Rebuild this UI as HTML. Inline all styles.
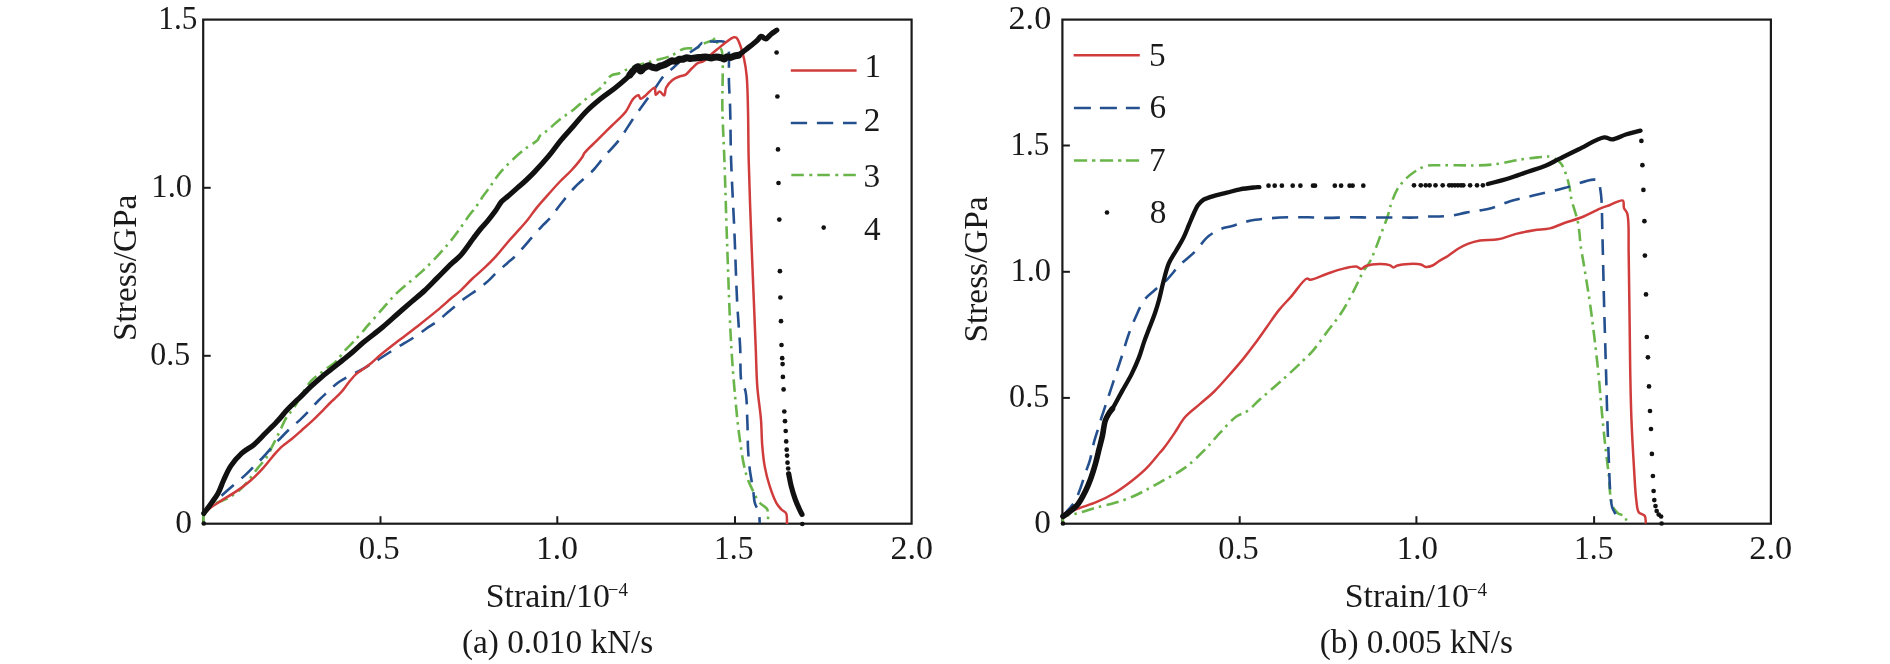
<!DOCTYPE html>
<html><head><meta charset="utf-8"><title>Stress-strain curves</title>
<style>
html,body{margin:0;padding:0;background:#fff;}
body{width:1890px;height:664px;overflow:hidden;}
svg{display:block;will-change:transform;}
text{font-family:"Liberation Serif",serif;font-size:33.3px;fill:#1a1a1a;}
</style></head>
<body>
<svg width="1890" height="664" viewBox="0 0 1890 664">
<rect width="1890" height="664" fill="#fff"/>
<rect x="203.2" y="19.6" width="708.4000000000001" height="504.1" fill="none" stroke="#1a1a1a" stroke-width="2.2"/><line x1="380.5" y1="523.7" x2="380.5" y2="516.2" stroke="#1a1a1a" stroke-width="2"/><line x1="557.3" y1="523.7" x2="557.3" y2="516.2" stroke="#1a1a1a" stroke-width="2"/><line x1="735" y1="523.7" x2="735" y2="516.2" stroke="#1a1a1a" stroke-width="2"/><line x1="203.2" y1="187.8" x2="210.7" y2="187.8" stroke="#1a1a1a" stroke-width="2"/><line x1="203.2" y1="355.8" x2="210.7" y2="355.8" stroke="#1a1a1a" stroke-width="2"/><rect x="1062.4" y="19.6" width="708.5" height="504.1" fill="none" stroke="#1a1a1a" stroke-width="2.2"/><line x1="1239.7" y1="523.7" x2="1239.7" y2="516.2" stroke="#1a1a1a" stroke-width="2"/><line x1="1416.4" y1="523.7" x2="1416.4" y2="516.2" stroke="#1a1a1a" stroke-width="2"/><line x1="1594.1" y1="523.7" x2="1594.1" y2="516.2" stroke="#1a1a1a" stroke-width="2"/><line x1="1062.4" y1="145.5" x2="1069.9" y2="145.5" stroke="#1a1a1a" stroke-width="2"/><line x1="1062.4" y1="271.8" x2="1069.9" y2="271.8" stroke="#1a1a1a" stroke-width="2"/><line x1="1062.4" y1="397.9" x2="1069.9" y2="397.9" stroke="#1a1a1a" stroke-width="2"/><path d="M203.80,523.00 C203.80,520.00 202.57,516.83 203.80,514.00 C205.37,510.39 210.54,506.58 214.50,504.00 C218.33,501.50 223.14,500.73 227.10,498.60 C230.96,496.52 234.67,494.13 238.00,491.40 C241.30,488.69 243.97,485.79 247.00,482.30 C250.60,478.15 254.40,472.33 257.90,467.90 C261.00,463.98 264.45,460.77 266.90,457.00 C269.17,453.52 270.36,450.06 272.30,446.20 C274.55,441.72 277.27,436.46 279.60,431.70 C281.83,427.13 283.56,422.21 286.00,418.20 C288.19,414.60 290.45,412.68 293.30,408.60 C297.94,401.95 305.36,387.53 310.50,381.60 C313.54,378.09 316.23,376.49 319.00,374.30 C321.48,372.34 323.72,370.94 326.30,369.00 C329.28,366.76 332.87,364.47 335.80,361.60 C338.90,358.56 341.31,354.44 344.30,351.10 C347.28,347.78 350.60,344.89 353.70,341.60 C356.90,338.20 360.80,333.77 363.20,331.00 C364.70,329.26 365.22,328.54 366.80,326.70 C369.73,323.28 374.99,317.29 379.50,312.20 C384.56,306.49 390.28,299.44 395.70,294.10 C400.52,289.35 405.52,285.54 410.20,281.50 C414.57,277.73 418.61,274.57 422.90,270.60 C427.63,266.22 432.73,261.09 437.30,256.20 C441.75,251.45 446.10,246.49 450.00,241.70 C453.62,237.26 456.71,233.01 460.00,228.50 C463.37,223.88 467.13,218.06 470.00,214.30 C471.99,211.70 473.69,210.07 475.30,207.90 C476.84,205.83 478.10,203.70 479.50,201.60 C480.90,199.50 482.12,197.53 483.70,195.30 C485.56,192.68 488.15,189.54 490.00,186.90 C491.58,184.65 492.61,182.75 494.20,180.50 C496.07,177.86 498.14,174.99 500.60,172.10 C503.48,168.72 506.87,165.18 510.60,161.60 C514.90,157.47 520.33,152.66 525.10,148.90 C529.39,145.52 535.59,142.48 537.80,139.90 C538.92,138.59 538.60,137.51 539.60,136.30 C541.10,134.49 544.04,133.04 546.80,130.80 C550.74,127.60 556.16,122.34 560.80,118.70 C565.06,115.37 569.34,112.95 573.50,109.70 C577.81,106.33 581.77,102.35 586.20,98.80 C590.79,95.11 596.33,92.00 600.60,88.00 C604.72,84.14 607.88,77.53 611.50,75.30 C613.91,73.81 616.11,74.45 618.70,73.50 C622.02,72.28 625.92,69.62 629.60,68.10 C633.16,66.63 636.89,65.58 640.40,64.50 C643.68,63.49 647.20,62.58 650.00,61.80 C652.17,61.19 653.41,60.88 655.80,60.20 C659.71,59.09 666.40,57.68 671.20,55.70 C675.77,53.81 679.59,49.96 684.00,48.70 C688.14,47.52 693.41,49.12 696.80,48.00 C699.38,47.15 701.01,44.94 703.00,43.90 C704.66,43.04 706.24,42.53 707.80,42.00 C709.23,41.51 710.64,41.44 712.00,40.80 C713.49,40.09 715.44,37.45 716.30,37.80 C717.12,38.13 716.68,40.99 717.20,42.50 C717.73,44.06 718.71,45.61 719.50,47.00 C720.21,48.26 721.11,48.49 721.70,50.50 C723.95,58.14 721.91,91.03 722.40,110.00 C722.85,127.39 723.71,141.09 724.40,160.00 C725.30,184.78 726.09,215.89 727.20,245.90 C728.42,278.94 729.54,318.75 731.50,350.00 C733.11,375.66 735.70,403.78 737.40,420.00 C738.31,428.67 738.96,433.14 739.90,439.90 C740.88,446.93 741.86,454.74 743.20,461.40 C744.38,467.29 745.56,472.76 747.30,477.90 C748.91,482.64 750.98,486.97 753.10,491.20 C755.13,495.26 757.13,499.64 759.70,502.80 C761.92,505.53 765.75,506.42 767.20,509.40 C768.90,512.88 767.73,518.47 768.00,523.00" fill="none" stroke="#69b54a" stroke-width="2.6" stroke-dasharray="12.5 5 2.5 5.5" stroke-linejoin="round"/><path d="M203.80,514.00 C205.87,511.00 207.57,507.59 210.00,505.00 C212.36,502.48 215.05,501.14 218.10,498.60 C222.25,495.15 227.84,490.04 232.50,486.00 C236.86,482.22 241.39,478.63 245.20,475.10 C248.52,472.02 251.19,469.11 254.20,466.10 C257.22,463.08 260.08,460.45 263.30,457.00 C267.25,452.78 272.90,445.73 276.00,442.50 C277.66,440.77 278.39,440.27 280.00,438.70 C282.53,436.23 286.24,432.17 289.60,429.00 C293.06,425.73 297.15,422.55 300.50,419.40 C303.53,416.56 306.00,414.02 308.90,411.00 C312.15,407.61 315.72,403.29 319.00,400.00 C321.87,397.11 324.43,394.92 327.40,392.20 C330.70,389.18 334.25,385.39 337.90,382.70 C341.30,380.19 344.78,378.45 348.50,376.40 C352.48,374.21 357.12,372.19 361.10,370.00 C364.82,367.95 368.39,365.72 371.70,363.70 C374.65,361.90 376.74,360.56 380.00,358.50 C384.71,355.52 391.49,351.04 397.20,347.50 C402.76,344.05 408.69,340.84 413.80,337.50 C418.38,334.51 422.42,331.31 426.50,328.50 C430.23,325.94 433.64,324.07 437.30,321.30 C441.46,318.15 445.58,314.10 450.00,310.40 C454.72,306.44 460.05,301.88 464.80,298.30 C468.97,295.15 473.02,292.77 476.90,289.90 C480.65,287.13 484.40,284.33 487.70,281.40 C490.76,278.68 493.07,275.84 496.10,273.00 C499.45,269.85 503.60,266.38 507.00,263.40 C509.98,260.80 512.59,258.87 515.40,256.10 C518.61,252.94 522.13,248.69 525.10,245.30 C527.70,242.34 529.84,239.69 532.30,236.90 C534.80,234.06 537.99,230.61 540.00,228.40 C541.30,226.98 541.90,226.26 543.20,224.90 C545.10,222.91 547.93,220.54 550.40,217.70 C553.49,214.15 556.38,209.56 560.00,205.00 C564.39,199.47 569.54,192.74 575.00,187.00 C580.64,181.06 588.24,175.50 593.40,170.00 C597.67,165.45 600.28,161.31 604.20,156.70 C608.62,151.49 614.06,146.40 618.70,140.40 C623.77,133.84 628.90,124.93 633.20,118.70 C636.51,113.90 639.31,110.15 642.20,106.10 C644.89,102.33 647.46,98.76 650.00,95.20 C652.43,91.80 654.79,88.45 657.10,85.20 C659.29,82.12 660.92,79.06 663.50,76.20 C666.38,73.02 670.05,70.55 673.80,67.20 C678.42,63.07 684.58,56.82 689.10,53.20 C692.37,50.58 695.61,48.97 698.00,47.00 C699.80,45.51 701.16,42.68 702.40,42.70 C703.33,42.71 703.96,45.20 704.80,45.20 C705.75,45.19 706.43,42.64 707.80,42.00 C709.52,41.20 712.30,41.70 714.70,41.60 C717.31,41.49 720.77,40.90 722.90,41.40 C724.40,41.75 725.60,42.38 726.50,43.30 C727.40,44.22 727.90,45.50 728.30,46.90 C728.79,48.61 728.76,50.18 728.90,52.90 C729.19,58.68 728.70,70.99 728.90,80.00 C729.10,88.99 729.77,96.42 730.10,106.90 C730.57,121.64 730.48,141.06 731.10,160.10 C731.82,182.18 733.38,207.76 734.40,231.60 C735.42,255.43 736.09,282.30 737.20,303.10 C738.06,319.22 739.34,332.21 740.10,346.00 C740.81,358.81 739.78,375.76 741.70,383.10 C742.58,386.45 744.31,386.77 745.20,390.00 C746.96,396.37 746.82,410.01 747.30,420.00 C747.78,429.94 747.60,440.87 748.10,449.80 C748.51,457.11 748.97,463.09 749.80,469.70 C750.63,476.33 752.22,483.55 753.10,489.50 C753.82,494.37 753.73,498.76 754.80,502.80 C755.76,506.41 758.09,509.30 758.90,512.70 C759.70,516.04 759.43,519.57 759.70,523.00" fill="none" stroke="#24508f" stroke-width="2.6" stroke-dasharray="16 10" stroke-linejoin="round"/><path d="M203.80,514.00 C206.13,511.87 208.12,509.69 210.80,507.60 C213.95,505.14 217.79,502.90 221.70,500.40 C226.17,497.54 231.45,494.66 236.20,491.40 C241.09,488.04 246.07,484.43 250.60,480.50 C255.10,476.59 259.52,472.04 263.30,467.90 C266.66,464.22 269.39,460.41 272.30,457.00 C274.94,453.91 277.01,451.15 280.00,448.30 C283.44,445.03 288.25,441.84 292.00,438.70 C295.44,435.82 298.39,433.13 301.70,430.20 C305.21,427.10 308.94,423.94 312.50,420.60 C316.17,417.15 320.15,413.06 323.40,409.80 C326.06,407.14 328.69,404.39 330.60,402.50 C331.84,401.27 332.42,400.76 333.70,399.50 C335.82,397.41 339.58,393.99 342.10,391.10 C344.48,388.38 346.25,385.46 348.50,382.70 C350.81,379.86 353.21,376.66 355.80,374.30 C358.14,372.17 360.66,370.85 363.20,369.00 C365.94,367.00 368.93,364.95 371.70,362.70 C374.54,360.39 376.60,358.15 380.00,355.30 C385.06,351.05 392.88,345.06 399.40,340.00 C405.95,334.92 412.78,329.92 419.20,324.90 C425.40,320.05 431.64,315.12 437.30,310.40 C442.45,306.11 447.63,301.32 451.80,297.80 C454.90,295.19 457.08,293.75 460.00,291.10 C463.70,287.74 467.93,282.86 472.00,279.00 C475.97,275.23 480.13,271.97 484.10,268.20 C488.17,264.34 492.18,260.39 496.10,256.10 C500.22,251.59 504.13,246.37 508.20,241.70 C512.17,237.14 516.71,232.34 520.20,228.40 C522.95,225.29 525.03,223.06 527.50,220.00 C530.29,216.54 532.81,212.57 536.00,208.60 C539.71,203.99 544.48,198.74 548.60,194.10 C552.47,189.73 556.11,185.55 560.00,181.50 C563.82,177.52 567.99,174.08 571.70,170.00 C575.49,165.83 580.45,159.81 582.50,156.70 C583.50,155.19 583.32,154.56 584.40,153.10 C586.66,150.03 592.64,144.76 597.00,140.40 C601.66,135.74 606.68,130.82 611.50,126.00 C616.32,121.18 622.14,116.42 625.90,111.50 C629.08,107.33 630.60,101.57 633.20,98.80 C634.93,96.95 637.38,94.88 638.60,95.20 C639.56,95.45 639.45,98.54 640.40,98.80 C641.59,99.12 643.68,96.84 645.60,95.40 C648.25,93.41 653.00,87.12 654.60,87.70 C655.85,88.15 654.77,94.42 655.80,94.80 C656.66,95.12 658.36,91.59 659.70,91.60 C661.15,91.61 663.14,95.74 664.20,95.40 C665.43,95.00 664.87,90.13 666.10,87.70 C667.48,84.97 670.04,81.94 672.50,80.00 C674.78,78.20 677.86,77.07 680.20,76.20 C682.04,75.52 683.63,75.85 685.30,74.90 C687.49,73.65 689.54,70.54 691.70,68.50 C693.81,66.51 695.95,63.94 698.10,62.80 C699.79,61.90 701.52,62.40 703.20,61.50 C705.36,60.34 707.35,57.66 709.60,55.70 C712.03,53.59 714.73,51.43 717.30,49.30 C719.87,47.17 722.28,44.89 725.00,42.90 C727.80,40.85 731.76,37.57 733.90,37.20 C734.98,37.01 735.69,37.16 736.50,37.80 C737.95,38.95 739.15,42.48 740.30,45.50 C741.80,49.44 743.15,54.68 744.20,59.60 C745.32,64.88 746.08,69.67 746.70,76.20 C747.57,85.46 747.68,97.63 748.00,110.00 C748.39,125.04 748.25,141.09 748.70,160.00 C749.29,184.79 750.66,220.56 751.60,245.90 C752.35,266.01 753.09,282.32 753.80,300.00 C754.49,316.99 755.18,334.63 755.80,350.00 C756.33,363.15 756.40,374.69 757.30,386.60 C758.16,398.00 760.18,409.68 761.00,420.00 C761.71,428.87 761.55,436.83 762.20,444.80 C762.81,452.26 763.42,459.40 764.70,466.40 C765.94,473.19 767.68,479.95 769.70,486.20 C771.59,492.04 773.95,498.64 776.30,502.80 C777.90,505.63 779.53,507.54 781.30,509.40 C782.85,511.03 785.19,511.54 786.20,513.50 C787.50,516.02 786.73,520.50 787.00,524.00" fill="none" stroke="#d03c3c" stroke-width="2.5" stroke-linejoin="round"/><path d="M203.80,513.40 C206.13,510.27 208.48,507.27 210.80,504.00 C213.25,500.55 216.00,497.05 218.10,493.20 C220.26,489.24 221.50,484.83 223.50,480.50 C225.66,475.82 227.72,470.58 230.70,466.10 C233.73,461.53 237.59,457.07 241.60,453.40 C245.45,449.87 250.28,447.72 254.20,444.40 C258.11,441.09 261.48,437.12 265.10,433.50 C268.71,429.89 273.18,425.55 275.90,422.70 C277.62,420.90 278.46,419.95 280.00,418.20 C282.08,415.85 284.64,412.56 287.20,409.80 C289.86,406.92 293.32,403.57 295.70,401.30 C297.35,399.73 298.28,399.04 300.00,397.40 C302.76,394.77 306.94,390.27 310.50,386.90 C313.98,383.60 317.53,380.42 321.10,377.40 C324.57,374.46 328.10,371.80 331.60,369.00 C335.10,366.20 338.59,363.41 342.10,360.60 C345.63,357.78 349.22,355.07 352.70,352.10 C356.25,349.07 359.64,345.61 363.20,342.60 C366.68,339.65 370.39,336.93 373.80,334.20 C377.01,331.64 379.70,329.57 383.10,326.70 C387.41,323.06 392.68,318.22 397.50,314.00 C402.32,309.78 407.32,305.44 412.00,301.40 C416.37,297.63 420.55,294.35 424.70,290.50 C428.99,286.53 432.95,282.25 437.30,277.90 C441.96,273.24 447.60,267.36 451.80,263.40 C454.87,260.50 457.11,259.24 460.00,256.10 C464.09,251.65 469.43,243.46 473.20,238.50 C475.98,234.84 478.01,232.03 480.50,229.00 C482.91,226.07 485.48,223.52 487.90,220.60 C490.41,217.57 492.99,214.31 495.30,211.10 C497.55,207.98 499.30,204.18 501.60,201.60 C503.56,199.41 505.60,198.29 507.90,196.30 C510.76,193.84 514.33,190.61 517.40,187.90 C520.28,185.35 523.03,183.09 525.80,180.50 C528.66,177.83 531.15,175.40 534.30,172.10 C538.51,167.69 544.12,161.58 548.60,156.20 C552.93,151.01 556.61,145.48 560.80,140.40 C564.91,135.42 569.27,130.81 573.50,126.00 C577.74,121.18 581.68,116.04 586.20,111.50 C590.71,106.97 595.71,102.77 600.60,98.80 C605.35,94.95 610.67,91.51 615.10,88.00 C619.02,84.90 623.19,81.38 625.90,78.90 C627.63,77.31 628.63,76.17 630.00,74.80" fill="none" stroke="#111111" stroke-width="5.2" stroke-linejoin="round" stroke-linecap="round"/><path d="M788.70,473.80 C789.53,477.93 790.14,482.02 791.20,486.20 C792.31,490.58 793.81,495.43 795.30,499.50 C796.61,503.08 798.24,506.67 799.50,509.40 C800.41,511.37 801.17,512.73 802.00,514.40" fill="none" stroke="#111111" stroke-width="5.2" stroke-linejoin="round" stroke-linecap="round"/><path d="M738.50,55.30 C739.90,54.23 741.22,53.25 742.70,52.10 C744.37,50.80 746.23,49.30 748.00,47.90 C749.77,46.50 751.64,45.05 753.30,43.70 C754.79,42.49 756.21,41.45 757.50,40.20 C758.77,38.98 759.63,36.54 761.00,36.30 C762.39,36.06 764.23,39.09 765.80,38.90 C767.58,38.69 769.17,35.65 771.00,34.20 C772.84,32.75 774.87,31.53 776.80,30.20" fill="none" stroke="#111111" stroke-width="5.2" stroke-linejoin="round" stroke-linecap="round"/><circle cx="776.6" cy="52.5" r="2.35" fill="#111111"/><circle cx="777.4" cy="96.5" r="2.35" fill="#111111"/><circle cx="778" cy="149.4" r="2.35" fill="#111111"/><circle cx="778.5" cy="183" r="2.35" fill="#111111"/><circle cx="779.3" cy="219.6" r="2.35" fill="#111111"/><circle cx="779.9" cy="271.2" r="2.35" fill="#111111"/><circle cx="780.4" cy="297.5" r="2.35" fill="#111111"/><circle cx="781" cy="321.2" r="2.35" fill="#111111"/><circle cx="781.5" cy="345" r="2.35" fill="#111111"/><circle cx="782.2" cy="358.2" r="2.35" fill="#111111"/><circle cx="782.6" cy="364.1" r="2.35" fill="#111111"/><circle cx="782.9" cy="376.9" r="2.35" fill="#111111"/><circle cx="783.6" cy="389.4" r="2.35" fill="#111111"/><circle cx="784.3" cy="411.5" r="2.35" fill="#111111"/><circle cx="785" cy="421.2" r="2.35" fill="#111111"/><circle cx="785.7" cy="431" r="2.35" fill="#111111"/><circle cx="786.2" cy="441.4" r="2.35" fill="#111111"/><circle cx="786.7" cy="449.7" r="2.35" fill="#111111"/><circle cx="787.1" cy="455.6" r="2.35" fill="#111111"/><circle cx="787.5" cy="462.7" r="2.35" fill="#111111"/><circle cx="788.2" cy="468.5" r="2.35" fill="#111111"/><circle cx="788.7" cy="473.8" r="2.35" fill="#111111"/><circle cx="802.3" cy="524" r="2.35" fill="#111111"/><circle cx="203.8" cy="523.5" r="2.35" fill="#111111"/><path d="M630.00,74.80 C631.07,73.47 631.96,72.08 633.20,70.80 C634.56,69.40 636.65,66.60 637.90,66.80 C639.02,66.98 639.49,70.85 640.50,71.00 C641.44,71.14 642.46,69.03 643.70,68.20 C645.09,67.27 647.00,65.89 648.50,65.80 C649.77,65.73 650.83,66.74 652.10,67.10 C653.46,67.48 655.06,68.19 656.40,68.00 C657.69,67.82 658.77,66.60 660.00,66.10 C661.20,65.61 662.44,65.49 663.70,65.00 C665.10,64.45 666.58,63.60 668.00,62.90 C669.41,62.20 670.88,61.00 672.20,60.80 C673.28,60.63 674.21,61.46 675.30,61.30 C676.65,61.10 678.25,59.51 679.60,59.20 C680.69,58.95 681.61,59.39 682.70,59.20 C684.01,58.97 685.53,57.79 686.90,57.70 C688.16,57.62 689.29,58.44 690.60,58.50 C692.07,58.56 693.69,58.08 695.30,57.90 C696.99,57.71 698.76,57.57 700.50,57.40 C702.26,57.23 704.04,56.82 705.80,56.90 C707.57,56.98 709.33,57.90 711.10,57.90 C712.87,57.90 714.64,56.90 716.40,56.90 C718.14,56.90 720.17,57.47 721.60,57.90 C722.66,58.22 723.44,59.13 724.30,59.00 C725.22,58.86 725.86,57.20 726.90,56.90 C728.07,56.56 729.77,57.59 731.10,57.40 C732.40,57.21 733.54,56.15 734.80,55.80 C736.01,55.46 737.27,55.47 738.50,55.30" fill="none" stroke="#111111" stroke-width="7" stroke-linejoin="round" stroke-linecap="round"/><path d="M1063.00,523.00 C1063.00,521.23 1062.71,518.75 1063.00,517.70 C1063.14,517.21 1063.15,517.03 1063.60,516.70 C1065.22,515.51 1073.02,514.50 1078.10,513.10 C1083.82,511.52 1090.15,509.27 1096.20,507.60 C1102.19,505.94 1108.23,504.88 1114.20,503.10 C1120.27,501.29 1126.67,499.17 1132.30,496.80 C1137.47,494.63 1142.11,492.06 1146.80,489.60 C1151.33,487.22 1154.94,485.18 1160.00,482.30 C1166.97,478.34 1177.11,473.44 1184.70,467.90 C1192.16,462.45 1199.11,455.54 1205.20,449.40 C1210.62,443.94 1214.64,438.46 1219.70,433.10 C1224.90,427.59 1230.83,420.52 1236.00,416.80 C1239.74,414.10 1243.21,413.87 1246.80,411.40 C1251.14,408.41 1254.77,403.98 1259.80,399.50 C1266.57,393.47 1276.37,385.39 1283.90,378.60 C1290.75,372.42 1297.92,365.64 1303.20,360.50 C1306.99,356.81 1309.41,354.71 1312.80,350.80 C1317.30,345.60 1322.48,338.02 1327.30,331.60 C1332.12,325.18 1337.31,319.07 1341.70,312.30 C1346.16,305.42 1350.08,297.66 1353.80,290.60 C1357.27,284.02 1360.33,276.57 1363.40,271.30 C1365.67,267.40 1368.01,265.14 1370.00,261.50 C1372.23,257.41 1374.00,252.54 1375.90,247.80 C1377.91,242.79 1379.75,237.41 1381.70,232.20 C1383.65,226.97 1385.92,221.59 1387.60,216.50 C1389.15,211.81 1389.89,207.32 1391.50,202.80 C1393.14,198.18 1394.97,193.13 1397.40,189.10 C1399.62,185.42 1402.28,182.33 1405.20,179.40 C1408.14,176.46 1411.45,173.77 1415.00,171.50 C1418.63,169.18 1422.76,166.71 1426.80,165.70 C1430.61,164.75 1434.10,165.38 1438.50,165.30 C1444.19,165.20 1451.47,165.28 1458.10,165.30 C1464.93,165.32 1472.08,165.66 1478.90,165.40 C1485.54,165.15 1491.99,164.71 1498.50,163.80 C1505.06,162.88 1511.55,160.97 1518.10,159.90 C1524.61,158.84 1532.00,157.96 1537.70,157.40 C1542.09,156.97 1546.21,156.11 1549.40,156.60 C1551.75,156.96 1553.43,157.82 1555.30,158.90 C1557.31,160.07 1559.39,161.46 1561.00,163.50 C1562.92,165.94 1564.19,169.55 1565.50,173.00 C1566.97,176.87 1568.20,181.30 1569.20,185.70 C1570.25,190.32 1570.55,195.54 1571.60,200.10 C1572.58,204.34 1574.13,208.53 1575.20,212.20 C1576.09,215.25 1576.93,217.52 1577.60,220.60 C1578.39,224.24 1578.90,228.62 1579.40,232.70 C1579.91,236.85 1579.99,240.64 1580.60,245.30 C1581.37,251.15 1582.63,257.15 1583.90,265.00 C1585.79,276.66 1588.49,292.44 1590.70,308.50 C1593.42,328.30 1596.75,356.98 1598.60,375.00 C1599.86,387.30 1600.30,395.34 1601.30,406.10 C1602.38,417.71 1603.64,430.68 1604.90,442.30 C1606.08,453.12 1607.38,463.17 1608.60,473.60 C1609.82,484.03 1609.55,497.96 1612.20,504.90 C1613.72,508.89 1615.90,511.58 1618.20,513.40 C1620.01,514.83 1622.79,514.50 1624.20,515.80 C1625.49,516.98 1625.80,519.00 1626.60,520.60" fill="none" stroke="#69b54a" stroke-width="2.6" stroke-dasharray="12.5 5 2.5 5.5" stroke-linejoin="round"/><path d="M1063.00,516.00 C1064.70,513.97 1066.31,512.05 1068.10,509.90 C1070.11,507.48 1072.64,505.24 1074.50,502.20 C1076.68,498.65 1078.19,494.11 1079.90,489.60 C1081.81,484.55 1083.56,478.39 1085.30,473.30 C1086.84,468.79 1088.41,465.35 1089.80,460.60 C1091.51,454.75 1092.75,446.77 1094.40,440.70 C1095.82,435.48 1097.70,430.30 1098.90,426.30 C1099.75,423.46 1100.25,421.42 1101.00,419.00 C1101.75,416.58 1102.47,414.60 1103.40,411.80 C1104.71,407.86 1106.37,402.83 1108.10,397.60 C1110.24,391.13 1112.90,383.13 1115.30,375.90 C1117.70,368.67 1120.30,361.11 1122.50,354.20 C1124.50,347.93 1125.91,342.17 1128.00,336.20 C1130.13,330.13 1132.53,324.08 1135.20,318.10 C1137.92,312.01 1140.60,304.85 1144.20,300.00 C1147.21,295.94 1150.85,293.58 1154.50,290.30 C1158.45,286.75 1163.03,283.53 1167.10,279.50 C1171.49,275.16 1175.28,269.54 1179.80,265.00 C1184.31,260.47 1189.52,256.94 1194.20,252.30 C1199.17,247.36 1203.69,240.16 1208.70,236.10 C1212.81,232.77 1217.22,230.48 1221.40,228.80 C1225.04,227.33 1228.74,227.13 1232.20,226.10 C1235.49,225.12 1238.21,223.78 1241.70,222.80 C1245.82,221.64 1250.81,220.55 1255.40,219.80 C1259.95,219.06 1264.12,218.70 1269.10,218.30 C1275.04,217.82 1282.16,217.47 1288.70,217.30 C1295.23,217.13 1301.77,217.20 1308.30,217.30 C1314.83,217.40 1321.38,217.90 1327.90,217.90 C1334.41,217.90 1340.46,217.38 1347.40,217.30 C1355.33,217.21 1364.32,217.47 1372.90,217.50 C1381.65,217.53 1391.73,217.50 1399.40,217.50 C1405.28,217.50 1410.17,217.70 1415.00,217.50 C1419.21,217.32 1422.87,216.67 1426.80,216.50 C1430.70,216.33 1434.45,216.63 1438.50,216.50 C1442.89,216.36 1447.66,216.24 1452.20,215.60 C1456.79,214.95 1461.29,213.46 1465.90,212.60 C1470.55,211.73 1475.50,211.20 1480.00,210.40 C1484.17,209.66 1487.64,209.23 1492.00,208.00 C1497.47,206.45 1503.58,203.31 1510.10,201.30 C1517.50,199.02 1525.72,197.37 1534.20,195.30 C1543.67,192.99 1554.39,190.74 1564.30,188.10 C1574.09,185.50 1587.54,179.66 1593.30,179.60 C1595.73,179.57 1597.32,179.76 1598.50,181.00 C1599.98,182.55 1599.82,186.34 1600.30,189.30 C1600.85,192.63 1601.19,195.54 1601.50,200.00 C1602.01,207.37 1602.06,220.02 1602.30,229.40 C1602.52,238.02 1602.66,244.33 1602.90,254.20 C1603.25,268.80 1603.70,289.58 1604.20,308.50 C1604.75,329.22 1605.55,353.95 1606.10,373.60 C1606.56,389.87 1606.86,404.12 1607.30,418.20 C1607.70,430.87 1608.09,441.89 1608.60,454.30 C1609.14,467.53 1609.60,485.72 1610.50,495.30 C1610.99,500.51 1611.14,503.87 1612.20,507.30 C1613.07,510.11 1614.92,512.83 1615.80,514.60 C1616.31,515.62 1616.60,516.20 1617.00,517.00" fill="none" stroke="#24508f" stroke-width="2.6" stroke-dasharray="16 10" stroke-linejoin="round"/><path d="M1063.00,516.10 C1063.20,515.70 1063.13,515.35 1063.60,514.90 C1065.22,513.36 1072.96,510.62 1078.10,508.60 C1083.76,506.37 1090.25,504.73 1096.20,502.20 C1102.29,499.61 1108.32,496.71 1114.20,493.20 C1120.36,489.52 1126.71,484.87 1132.30,480.50 C1137.51,476.42 1142.24,472.49 1146.80,467.90 C1151.49,463.18 1156.97,455.99 1160.00,452.50 C1161.57,450.69 1162.13,450.25 1163.60,448.40 C1166.32,444.97 1170.92,438.31 1174.50,433.10 C1178.15,427.78 1181.06,421.65 1185.30,416.80 C1189.51,411.99 1194.97,408.32 1199.80,404.10 C1204.61,399.89 1209.27,396.34 1214.20,391.50 C1220.05,385.76 1227.06,377.53 1232.30,371.60 C1236.43,366.93 1239.55,363.38 1243.20,358.90 C1247.12,354.09 1251.10,348.87 1255.00,343.60 C1259.04,338.15 1262.98,332.32 1267.00,326.70 C1271.02,321.08 1274.93,315.07 1279.10,309.90 C1282.98,305.09 1286.85,301.39 1291.10,296.60 C1296.00,291.07 1303.16,279.59 1306.80,278.60 C1308.25,278.20 1308.76,279.82 1310.40,279.80 C1313.96,279.76 1321.65,275.61 1327.30,273.70 C1332.91,271.81 1339.01,269.62 1344.20,268.40 C1348.50,267.39 1353.16,266.03 1356.20,266.50 C1358.22,266.81 1359.42,268.96 1361.00,268.90 C1362.62,268.84 1363.68,266.76 1365.80,266.00 C1369.16,264.79 1375.54,263.96 1379.80,263.90 C1383.35,263.85 1387.14,264.26 1389.60,265.10 C1391.27,265.67 1392.19,267.35 1393.50,267.40 C1394.79,267.45 1395.70,266.02 1397.40,265.50 C1400.21,264.65 1405.18,264.07 1409.10,263.90 C1413.02,263.73 1417.88,263.69 1420.90,264.50 C1422.96,265.05 1423.99,266.77 1425.80,267.00 C1427.84,267.26 1430.49,266.41 1432.60,265.50 C1434.73,264.58 1436.26,262.92 1438.50,261.50 C1441.33,259.71 1445.07,257.79 1448.30,255.70 C1451.61,253.56 1454.77,250.80 1458.10,248.80 C1461.27,246.90 1464.31,245.25 1467.80,243.90 C1471.57,242.44 1475.49,241.27 1480.00,240.50 C1485.40,239.58 1492.14,240.38 1498.10,239.30 C1504.17,238.20 1510.06,235.42 1516.10,233.90 C1522.09,232.39 1528.36,231.13 1534.20,230.20 C1539.60,229.34 1544.85,229.62 1549.90,228.40 C1554.88,227.20 1559.21,224.80 1564.30,223.00 C1569.97,221.00 1576.48,219.38 1582.40,217.00 C1588.38,214.59 1594.91,210.72 1600.00,208.60 C1603.76,207.03 1606.46,206.26 1610.00,205.00 C1614.00,203.58 1620.66,199.23 1622.80,200.50 C1624.41,201.46 1623.18,205.84 1624.00,208.10 C1624.75,210.16 1626.46,210.76 1627.30,213.60 C1629.41,220.75 1628.30,237.20 1628.70,254.20 C1629.38,282.91 1629.63,339.73 1630.20,370.00 C1630.57,389.53 1630.78,402.14 1631.40,418.20 C1632.02,434.27 1633.00,451.77 1633.90,466.40 C1634.65,478.64 1635.17,491.71 1636.30,500.10 C1636.98,505.17 1636.84,509.56 1638.70,512.20 C1640.10,514.19 1643.49,514.00 1644.70,515.80 C1645.98,517.70 1645.50,520.93 1645.90,523.50" fill="none" stroke="#d03c3c" stroke-width="2.5" stroke-linejoin="round"/><path d="M1063.00,516.40 C1065.00,515.00 1066.85,513.91 1069.00,512.20 C1071.78,509.99 1075.46,507.27 1078.10,504.00 C1080.97,500.44 1083.18,495.67 1085.30,491.40 C1087.37,487.23 1089.07,483.11 1090.70,478.70 C1092.42,474.07 1093.93,469.05 1095.30,464.20 C1096.66,459.41 1097.70,454.61 1098.90,449.80 C1100.10,444.98 1101.45,440.15 1102.50,435.30 C1103.55,430.48 1103.88,424.72 1105.20,420.80 C1106.17,417.90 1107.50,415.71 1108.80,413.60 C1109.92,411.78 1110.99,410.99 1112.40,408.80 C1115.04,404.71 1119.21,396.34 1122.50,390.40 C1125.60,384.80 1128.86,379.59 1131.60,374.10 C1134.27,368.75 1136.69,363.36 1138.80,357.90 C1140.88,352.53 1142.33,346.86 1144.20,341.60 C1145.97,336.61 1147.88,331.93 1149.70,327.10 C1151.51,322.29 1153.51,317.37 1155.10,312.70 C1156.58,308.36 1157.72,304.66 1159.00,300.00 C1160.54,294.39 1161.84,287.46 1163.50,281.30 C1165.14,275.20 1166.59,268.58 1168.90,263.20 C1170.94,258.46 1173.78,254.73 1176.20,250.50 C1178.61,246.29 1181.28,242.17 1183.40,237.90 C1185.47,233.73 1187.00,229.43 1188.80,225.20 C1190.60,220.97 1192.51,216.11 1194.20,212.50 C1195.50,209.73 1196.35,207.42 1197.90,205.30 C1199.40,203.24 1200.91,201.41 1203.30,199.90 C1206.46,197.90 1211.82,196.63 1215.90,195.40 C1219.64,194.27 1223.00,193.66 1226.80,192.70 C1230.99,191.64 1235.55,190.17 1240.00,189.30 C1244.45,188.43 1249.91,187.86 1253.50,187.50 C1255.86,187.26 1257.43,187.23 1259.40,187.10" fill="none" stroke="#111111" stroke-width="4.3" stroke-linejoin="round" stroke-linecap="round"/><path d="M1487.80,184.00 C1494.63,182.17 1501.58,180.56 1508.30,178.50 C1514.94,176.46 1521.54,173.87 1527.90,171.70 C1533.92,169.65 1540.07,168.06 1545.50,165.80 C1550.43,163.74 1554.22,161.39 1559.20,158.90 C1565.15,155.93 1571.82,152.55 1578.80,149.20 C1586.70,145.41 1598.06,137.98 1604.20,137.40 C1607.51,137.09 1609.13,139.54 1612.10,139.40 C1616.07,139.21 1621.12,135.95 1625.80,134.50 C1630.58,133.01 1635.60,131.90 1640.50,130.60" fill="none" stroke="#111111" stroke-width="4.3" stroke-linejoin="round" stroke-linecap="round"/><circle cx="1268.5" cy="185.7" r="2.35" fill="#111111"/><circle cx="1274.7" cy="185.7" r="2.35" fill="#111111"/><circle cx="1281.9" cy="185.7" r="2.35" fill="#111111"/><circle cx="1292.7" cy="185.7" r="2.35" fill="#111111"/><circle cx="1300.4" cy="185.7" r="2.35" fill="#111111"/><circle cx="1313" cy="185.7" r="2.35" fill="#111111"/><circle cx="1315" cy="185.7" r="2.35" fill="#111111"/><circle cx="1334.8" cy="185.7" r="2.35" fill="#111111"/><circle cx="1341.1" cy="185.7" r="2.35" fill="#111111"/><circle cx="1349.6" cy="185.7" r="2.35" fill="#111111"/><circle cx="1352.6" cy="185.7" r="2.35" fill="#111111"/><circle cx="1363.3" cy="185.7" r="2.35" fill="#111111"/><circle cx="1414" cy="185.3" r="2.35" fill="#111111"/><circle cx="1420.8" cy="185.3" r="2.35" fill="#111111"/><circle cx="1425.7" cy="185.3" r="2.35" fill="#111111"/><circle cx="1429.6" cy="185.3" r="2.35" fill="#111111"/><circle cx="1435.5" cy="185.3" r="2.35" fill="#111111"/><circle cx="1442.7" cy="185.3" r="2.35" fill="#111111"/><circle cx="1449.2" cy="185.3" r="2.35" fill="#111111"/><circle cx="1452" cy="185.3" r="2.35" fill="#111111"/><circle cx="1455" cy="185.3" r="2.35" fill="#111111"/><circle cx="1458" cy="185.3" r="2.35" fill="#111111"/><circle cx="1461" cy="185.3" r="2.35" fill="#111111"/><circle cx="1463.3" cy="185.3" r="2.35" fill="#111111"/><circle cx="1470.1" cy="185.3" r="2.35" fill="#111111"/><circle cx="1477" cy="185.3" r="2.35" fill="#111111"/><circle cx="1482.9" cy="185.3" r="2.35" fill="#111111"/><circle cx="1641.4" cy="140.9" r="2.35" fill="#111111"/><circle cx="1642.4" cy="165.2" r="2.35" fill="#111111"/><circle cx="1643.4" cy="189.9" r="2.35" fill="#111111"/><circle cx="1644.4" cy="221.2" r="2.35" fill="#111111"/><circle cx="1644.9" cy="255.6" r="2.35" fill="#111111"/><circle cx="1646" cy="294.4" r="2.35" fill="#111111"/><circle cx="1646.8" cy="337" r="2.35" fill="#111111"/><circle cx="1647.9" cy="357.3" r="2.35" fill="#111111"/><circle cx="1649" cy="386.4" r="2.35" fill="#111111"/><circle cx="1650" cy="411" r="2.35" fill="#111111"/><circle cx="1651" cy="429" r="2.35" fill="#111111"/><circle cx="1651.9" cy="453.9" r="2.35" fill="#111111"/><circle cx="1652.9" cy="476" r="2.35" fill="#111111"/><circle cx="1653.6" cy="491" r="2.35" fill="#111111"/><circle cx="1654.3" cy="500.1" r="2.35" fill="#111111"/><circle cx="1655.5" cy="506.1" r="2.35" fill="#111111"/><circle cx="1656.7" cy="511" r="2.35" fill="#111111"/><circle cx="1658.7" cy="514.6" r="2.35" fill="#111111"/><circle cx="1661.1" cy="516.5" r="2.35" fill="#111111"/><circle cx="1661.6" cy="523.5" r="2.35" fill="#111111"/><circle cx="1063" cy="523.5" r="2.35" fill="#111111"/><path d="M1063.00,516.40 C1065.00,515.00 1066.85,513.91 1069.00,512.20 C1071.78,509.99 1075.46,507.27 1078.10,504.00 C1080.97,500.44 1083.18,495.67 1085.30,491.40 C1087.37,487.23 1089.07,483.11 1090.70,478.70 C1092.42,474.07 1093.93,469.05 1095.30,464.20 C1096.66,459.41 1097.70,454.61 1098.90,449.80 C1100.10,444.98 1101.45,440.15 1102.50,435.30 C1103.55,430.48 1103.88,424.72 1105.20,420.80 C1106.17,417.90 1107.50,415.71 1108.80,413.60 C1109.92,411.78 1111.20,410.40 1112.40,408.80" fill="none" stroke="#111111" stroke-width="5.6" stroke-linejoin="round" stroke-linecap="round"/><line x1="790.8" y1="70.5" x2="856.6" y2="70.5" stroke="#d03c3c" stroke-width="2.6"/><line x1="790.8" y1="122.9" x2="856.6" y2="122.9" stroke="#24508f" stroke-width="2.5" stroke-dasharray="16.3 9.8"/><line x1="791.3" y1="175" x2="856.8" y2="175" stroke="#69b54a" stroke-width="2.5" stroke-dasharray="12.5 5.5 3 5"/><circle cx="823.7" cy="227.6" r="2.3" fill="#111111"/><line x1="1073.6" y1="55.3" x2="1139.8" y2="55.3" stroke="#d03c3c" stroke-width="2.6"/><line x1="1073.9" y1="107.9" x2="1139.8" y2="107.9" stroke="#24508f" stroke-width="2.5" stroke-dasharray="17 9"/><line x1="1073.9" y1="160.6" x2="1139.8" y2="160.6" stroke="#69b54a" stroke-width="2.5" stroke-dasharray="13.2 4.9 3.4 4.5"/><circle cx="1107" cy="212.5" r="2.3" fill="#111111"/>
<text x="158.35" y="28.8" textLength="38.99" lengthAdjust="spacingAndGlyphs">1.5</text><text x="151.32" y="196.8" textLength="40.85" lengthAdjust="spacingAndGlyphs">1.0</text><text x="150.29" y="364.5" textLength="39.89" lengthAdjust="spacingAndGlyphs">0.5</text><text x="175.32" y="532.5" textLength="16.78" lengthAdjust="spacingAndGlyphs">0</text><text x="358.65" y="558.6" textLength="41.06" lengthAdjust="spacingAndGlyphs">0.5</text><text x="536.05" y="558.6" textLength="41.85" lengthAdjust="spacingAndGlyphs">1.0</text><text x="714.02" y="558.6" textLength="39.55" lengthAdjust="spacingAndGlyphs">1.5</text><text x="890.60" y="558.6" textLength="42.52" lengthAdjust="spacingAndGlyphs">2.0</text><text x="1008.50" y="28.8" textLength="42.74" lengthAdjust="spacingAndGlyphs">2.0</text><text x="1010.57" y="154.8" textLength="38.77" lengthAdjust="spacingAndGlyphs">1.5</text><text x="1010.43" y="280.8" textLength="40.74" lengthAdjust="spacingAndGlyphs">1.0</text><text x="1009.07" y="406.5" textLength="40.32" lengthAdjust="spacingAndGlyphs">0.5</text><text x="1034.33" y="532.5" textLength="16.67" lengthAdjust="spacingAndGlyphs">0</text><text x="1218.27" y="558.6" textLength="40.53" lengthAdjust="spacingAndGlyphs">0.5</text><text x="1396.70" y="558.6" textLength="41.18" lengthAdjust="spacingAndGlyphs">1.0</text><text x="1574.02" y="558.6" textLength="39.55" lengthAdjust="spacingAndGlyphs">1.5</text><text x="1749.29" y="558.6" textLength="42.95" lengthAdjust="spacingAndGlyphs">2.0</text><text x="864.6" y="77.1" text-anchor="start" >1</text><text x="863.7" y="131.1" text-anchor="start" >2</text><text x="863.6" y="186.6" text-anchor="start" >3</text><text x="863.9" y="239.6" text-anchor="start" >4</text><text x="1149.0" y="65.8" text-anchor="start" >5</text><text x="1149.4" y="117.7" text-anchor="start" >6</text><text x="1149.0" y="171" text-anchor="start" >7</text><text x="1149.8" y="222.6" text-anchor="start" >8</text><text x="485.63" y="607.3" text-anchor="start" style="font-size:33.9px">Strain/10<tspan dx="-2.2" dy="-11.7" font-size="19">&#8722;4</tspan></text><text x="1344.63" y="607.3" text-anchor="start" style="font-size:33.9px">Strain/10<tspan dx="-2.2" dy="-11.7" font-size="19">&#8722;4</tspan></text><text x="461.9" y="652.8" text-anchor="start" >(a) 0.010 kN/s</text><text x="1319.7" y="652.8" text-anchor="start" >(b) 0.005 kN/s</text><text transform="translate(136.2,340.9) rotate(-90)">Stress/GPa</text><text transform="translate(987.2,342.5) rotate(-90)">Stress/GPa</text>
</svg>
</body></html>
